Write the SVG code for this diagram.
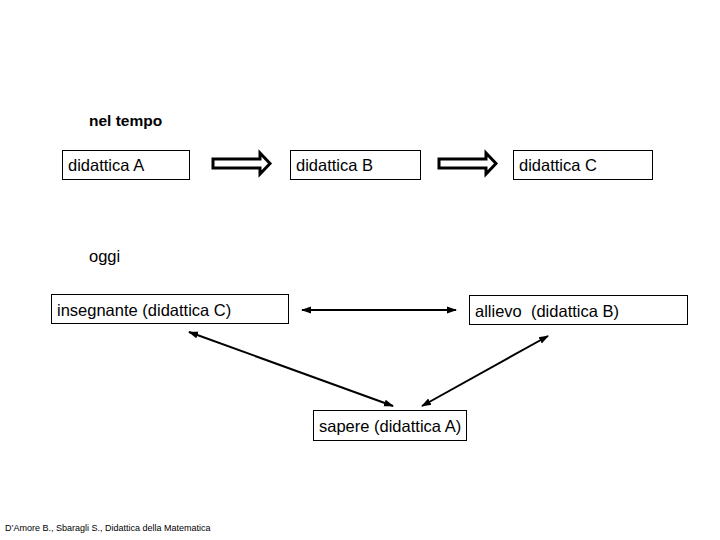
<svg xmlns="http://www.w3.org/2000/svg" width="720" height="540" viewBox="0 0 720 540">
<style>
.box{fill:#fff;stroke:#000;stroke-width:1}
.t{font-family:"Liberation Sans",Arial,sans-serif;font-size:16.5px;fill:#000}
.line{stroke:#000;stroke-width:2;fill:none}
.hollow{fill:#fff;stroke:#000;stroke-width:3}
</style>
<defs>
<marker id="ah" viewBox="0 0 10 10" refX="9" refY="5" markerWidth="5" markerHeight="5" orient="auto-start-reverse" markerUnits="strokeWidth">
<path d="M0,1.5 L10,5 L0,8.5 z" fill="#000"/>
</marker>
</defs>
<rect width="720" height="540" fill="#fff"/>
<text class="t" x="89" y="126" style="font-weight:bold;font-size:15.5px">nel tempo</text>
<text class="t" x="89" y="262">oggi</text>
<g id="nodeA"><rect class="box" x="62.5" y="150.5" width="127" height="29"/><text class="t" x="68" y="171">didattica A</text></g>
<g id="nodeB"><rect class="box" x="290.5" y="150.5" width="130" height="29"/><text class="t" x="296" y="171">didattica B</text></g>
<g id="nodeC"><rect class="box" x="513.5" y="150.5" width="139" height="29"/><text class="t" x="519" y="171">didattica C</text></g>
<g id="insegnante"><rect class="box" x="51.5" y="294.5" width="237" height="29"/><text class="t" x="57" y="316">insegnante (didattica C)</text></g>
<g id="allievo"><rect class="box" x="469.5" y="295.5" width="218" height="29"/><text class="t" x="475" y="317" style="white-space:pre">allievo  (didattica B)</text></g>
<g id="sapere"><rect class="box" x="313.5" y="410.5" width="153" height="30"/><text class="t" x="319" y="432">sapere (didattica A)</text></g>
<g id="connectors">
<path class="hollow" d="M213,159 H260 V153 L270,163.5 L260,174 V168 H213 Z"/>
<path class="hollow" d="M439,159 H486 V153 L496,163.5 L486,174 V168 H439 Z"/>
<line class="line" x1="302" y1="310" x2="456" y2="310" marker-start="url(#ah)" marker-end="url(#ah)"/>
<line class="line" x1="189" y1="332" x2="393" y2="406" marker-start="url(#ah)" marker-end="url(#ah)"/>
<line class="line" x1="422" y1="406" x2="548" y2="336" marker-start="url(#ah)" marker-end="url(#ah)"/>
</g>
<text x="5" y="531" style="font-family:'Liberation Sans',Arial,sans-serif;font-size:9px">D’Amore B., Sbaragli S., Didattica della Matematica</text>
</svg>
